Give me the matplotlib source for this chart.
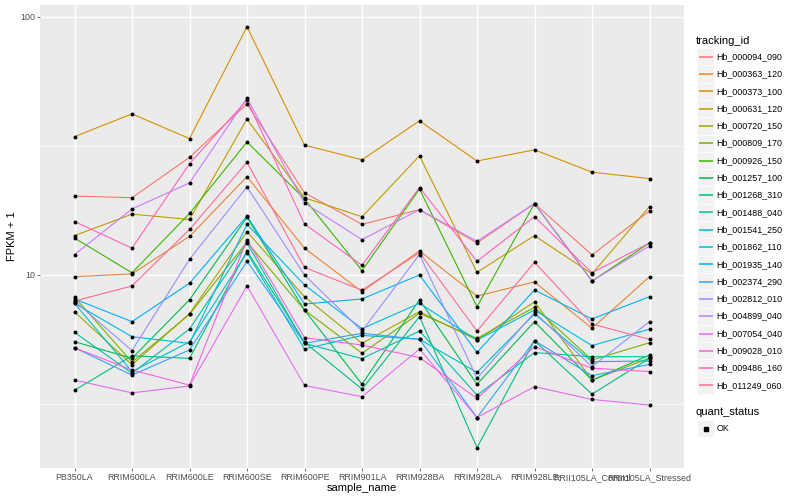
import matplotlib
matplotlib.use("Agg")
import matplotlib.pyplot as plt
from matplotlib.lines import Line2D
from matplotlib.patches import Rectangle

plt.rcParams['font.family'] = ['Liberation Sans', 'DejaVu Sans']

samples = ["PB350LA", "RRIM600LA", "RRIM600LE", "RRIM600SE", "RRIM600PE", "RRIM901LA",
           "RRIM928BA", "RRIM928LA", "RRIM928LE", "RRII105LA_Control", "RRII105LA_Stressed"]

tracking_ids = ["Hb_000094_090", "Hb_000363_120", "Hb_000373_100", "Hb_000631_120", "Hb_000720_150",
                "Hb_000809_170", "Hb_000926_150", "Hb_001257_100", "Hb_001268_310", "Hb_001488_040",
                "Hb_001541_250", "Hb_001862_110", "Hb_001935_140", "Hb_002374_290", "Hb_002812_010",
                "Hb_004899_040", "Hb_007054_040", "Hb_009028_010", "Hb_009486_160", "Hb_011249_060"]

colors = ["#F8766D", "#EA8331", "#D89000", "#C09B00", "#A3A500", "#7CAE00", "#39B600", "#00BB4E",
          "#00BF7D", "#00C1A3", "#00BFC4", "#00BAE0", "#00B0F6", "#35A2FF", "#9590FF", "#C77CFF",
          "#E76BF3", "#FA62DB", "#FF62BC", "#FF6C91"]

hb_000094_090 = [20.2, 19.9, 28.5, 45.9, 20.8, 15.7, 17.9, 13.3, 18.9, 11.95, 17.7]
hb_000363_120 = [9.85, 10.1, 14.1, 24.0, 12.7, 8.62, 12.4, 8.29, 9.40, 6.22, 9.85]
hb_000373_100 = [34.3, 42.0, 33.7, 91.3, 31.8, 27.9, 39.5, 27.6, 30.5, 25.0, 23.6]
hb_000631_120 = [14.2, 17.2, 16.4, 40.1, 19.9, 16.8, 28.9, 10.24, 14.2, 10.1, 18.4]
hb_000720_150 = [7.21, 4.49, 7.09, 14.7, 8.24, 5.44, 7.21, 5.60, 7.88, 3.92, 4.77]
hb_000809_170 = [8.22, 4.60, 7.05, 13.4, 7.32, 4.98, 7.11, 5.69, 7.50, 4.69, 5.47]
hb_000926_150 = [13.9, 10.2, 17.3, 32.7, 19.7, 10.4, 21.5, 7.54, 18.9, 9.48, 13.3]
hb_001257_100 = [5.52, 4.76, 8.02, 16.7, 7.32, 3.78, 8.02, 3.78, 6.60, 3.92, 4.90]
hb_001268_310 = [3.58, 4.87, 4.76, 12.4, 5.49, 3.62, 6.90, 2.15, 5.57, 3.46, 4.76]
hb_001488_040 = [6.00, 4.17, 6.18, 13.3, 5.44, 4.75, 6.07, 3.43, 5.01, 4.83, 4.83]
hb_001541_250 = [7.77, 4.23, 5.51, 12.2, 5.17, 5.84, 5.64, 4.20, 7.07, 4.62, 4.65]
hb_001862_110 = [7.77, 5.77, 5.44, 15.7, 9.15, 6.20, 7.77, 5.60, 7.32, 5.33, 6.17]
hb_001935_140 = [8.08, 6.60, 9.29, 16.9, 7.72, 8.08, 10.0, 5.02, 8.75, 6.76, 8.24]
hb_002374_290 = [5.23, 4.10, 5.13, 11.3, 5.44, 5.95, 5.64, 2.81, 5.57, 4.08, 4.51]
hb_002812_010 = [7.93, 5.10, 11.5, 21.9, 10.0, 6.07, 12.0, 3.98, 7.17, 4.42, 6.60]
hb_004899_040 = [12.0, 18.0, 22.7, 48.3, 19.0, 13.7, 17.9, 13.5, 18.9, 9.48, 12.95]
hb_007054_040 = [3.92, 3.50, 3.72, 9.07, 3.74, 3.38, 5.17, 2.81, 3.70, 3.30, 3.14]
hb_009028_010 = [5.23, 4.29, 3.75, 13.7, 5.72, 5.36, 4.79, 3.33, 5.28, 4.36, 4.23]
hb_009486_160 = [16.1, 12.7, 26.95, 47.5, 15.75, 10.9, 21.8, 11.3, 16.8, 10.2, 13.3]
hb_011249_060 = [7.93, 9.07, 15.0, 27.3, 10.7, 8.73, 12.2, 6.07, 11.2, 6.46, 5.64]

series = [hb_000094_090, hb_000363_120, hb_000373_100, hb_000631_120, hb_000720_150,
          hb_000809_170, hb_000926_150, hb_001257_100, hb_001268_310, hb_001488_040,
          hb_001541_250, hb_001862_110, hb_001935_140, hb_002374_290, hb_002812_010,
          hb_004899_040, hb_007054_040, hb_009028_010, hb_009486_160, hb_011249_060]

W, H = 800, 500
fig = plt.figure(figsize=(8, 5), dpi=100)
fig.patch.set_facecolor('white')

def fx(px):
    return px / W

def fy(py):
    return 1 - py / H

ax = fig.add_axes([fx(40), fy(468), (684 - 40) / W, (468 - 5) / H])
ax.set_facecolor('#EBEBEB')
ax.set_yscale('log')
ax.set_ylim(1.792, 110.8)
ax.set_xlim(-0.6, 10.6)

xs = list(range(len(samples)))
ax.set_xticks(xs)
ax.set_xticklabels(samples)
ax.set_yticks([10, 100])
ax.set_yticklabels(["10", "100"])
ax.set_yticks([10 ** 0.5, 10 ** 1.5], minor=True)
ax.yaxis.set_minor_formatter(plt.NullFormatter())
ax.tick_params(axis='both', which='major', length=2.0, width=0.5, color='#333333',
               labelsize=6.4, labelcolor='#4D4D4D', pad=1.6)
ax.tick_params(axis='both', which='minor', length=0)
ax.grid(which='major', axis='both', color='white', linewidth=1.0)
ax.grid(which='minor', axis='y', color='white', linewidth=0.5)
ax.set_axisbelow(True)
for s in ax.spines.values():
    s.set_visible(False)

for vals, c in zip(series, colors):
    ax.plot(xs, vals, color=c, linewidth=0.8, zorder=2)
for vals in series:
    ax.scatter(xs, vals, s=8, color='black', marker='o', linewidths=0, zorder=3)

fig.text(fx(362), fy(488), "sample_name", ha='center', va='center', fontsize=8)
fig.text(fx(12), fy(236.5), "FPKM + 1", ha='center', va='center', rotation=90, fontsize=8)

# legend: tracking_id
fig.text(fx(696), fy(40.5), "tracking_id", ha='left', va='center', fontsize=8)
key = 17.3
for i, (tid, c) in enumerate(zip(tracking_ids, colors)):
    yc = 56.7 + key * i
    fig.patches.append(Rectangle((fx(697), fy(yc + key / 2)), key / W, key / H,
                                 transform=fig.transFigure, facecolor='#F2F2F2',
                                 edgecolor='white', linewidth=0.5, zorder=1))
    fig.lines.append(Line2D([fx(698.7), fx(712.6)], [fy(yc), fy(yc)],
                            transform=fig.transFigure, color=c, linewidth=1.1,
                            solid_capstyle='butt', zorder=3))
    fig.text(fx(716.5), fy(yc), tid, ha='left', va='center', fontsize=6.4)

# legend: quant_status
fig.text(fx(696), fy(412), "quant_status", ha='left', va='center', fontsize=8)
yc = 428.7
fig.patches.append(Rectangle((fx(697), fy(yc + key / 2)), key / W, key / H,
                             transform=fig.transFigure, facecolor='#F2F2F2',
                             edgecolor='white', linewidth=0.5, zorder=1))
fig.lines.append(Line2D([fx(705.6)], [fy(yc)], transform=fig.transFigure,
                        marker='s', markersize=2.6, color='black', linestyle='none', zorder=3))
fig.text(fx(716.5), fy(yc), "OK", ha='left', va='center', fontsize=6.4)

fig.savefig("out.png", dpi=100)
